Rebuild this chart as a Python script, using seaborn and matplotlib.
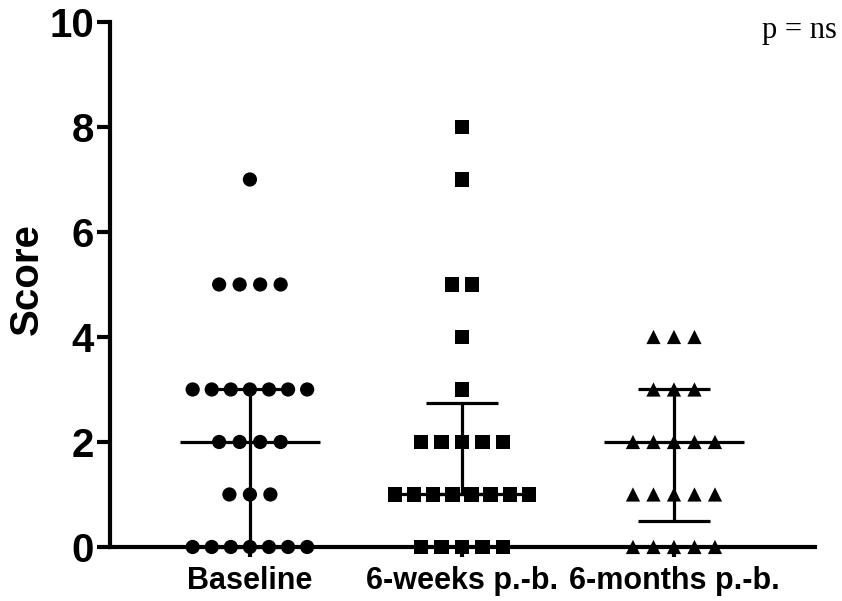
import numpy as np
import pandas as pd
import matplotlib
matplotlib.use("Agg")
import matplotlib.pyplot as plt
import seaborn as sns

# Scores per time point
groups = ["Baseline", "6-weeks p.-b.", "6-months p.-b."]
baseline_scores = [0, 0, 0, 0, 0, 0, 0, 1, 1, 1, 2, 2, 2, 2,
                   3, 3, 3, 3, 3, 3, 3, 5, 5, 5, 5, 7]
weeks6_scores = [0, 0, 0, 0, 0, 1, 1, 1, 1, 1, 1, 1, 1,
                 2, 2, 2, 2, 2, 3, 4, 5, 5, 7, 8]
months6_scores = [0, 0, 0, 0, 0, 1, 1, 1, 1, 1, 2, 2, 2, 2, 2,
                  3, 3, 3, 4, 4, 4]
group_markers = ["o", "s", "^"]
y_ticks = [0, 2, 4, 6, 8, 10]

sns.set_style("ticks")
plt.rcParams["font.family"] = ["Liberation Sans", "DejaVu Sans"]
plt.rcParams.update({"text.color": "black", "axes.labelcolor": "black",
                     "xtick.color": "black", "ytick.color": "black"})

fig = plt.figure(figsize=(8.42, 6.01), dpi=100)
ax = fig.add_axes([0.1306, 0.0899, 0.8373, 0.8735])

# Lay out tied scores side by side, centred on each group position;
# long rows are packed slightly tighter
rows = []
for gi, (name, vals) in enumerate(zip(groups, [baseline_scores, weeks6_scores, months6_scores])):
    vals = np.asarray(vals)
    for v in np.unique(vals):
        n = int((vals == v).sum())
        step = 0.0967 if n <= 6 else 0.0900
        for k in range(n):
            rows.append({"group": name, "score": v,
                         "xpos": gi + (k - (n - 1) / 2) * step})
df = pd.DataFrame(rows)

sns.scatterplot(data=df, x="xpos", y="score", style="group",
                markers=dict(zip(groups, group_markers)), color="black",
                s=105, linewidth=0, legend=False, clip_on=False, zorder=3, ax=ax)

# Median with interquartile range
for gi, vals in enumerate([baseline_scores, weeks6_scores, months6_scores]):
    q1, med, q3 = np.percentile(vals, [25, 50, 75], method="weibull")
    ax.hlines(med, gi - 0.33, gi + 0.33, color="black", lw=2.3, clip_on=False, zorder=2)
    ax.vlines(gi, q1, q3, color="black", lw=2.3, clip_on=False, zorder=2)
    ax.hlines([q1, q3], gi - 0.17, gi + 0.17, color="black", lw=2.3, clip_on=False, zorder=2)

ax.set_xlim(-0.66, 2.665)
ax.set_ylim(0, 10)
ax.set_yticks(y_ticks)
ax.set_yticklabels([str(t) for t in y_ticks], fontsize=29, fontweight="bold")
ax.set_xticks(range(len(groups)))
ax.set_xticklabels(groups, fontsize=22, fontweight="bold")
ax.tick_params(axis="y", length=9.5, width=3, pad=2, direction="out", color="black")
ax.tick_params(axis="x", length=7, width=3, pad=7, direction="out", color="black")
ax.set_xlabel("")
ax.set_ylabel("Score", fontsize=29, fontweight="bold")
ax.yaxis.set_label_coords(-0.1177, 0.511)
ax.yaxis.label.set_va("center")

sns.despine(ax=ax)
for side in ["left", "bottom"]:
    ax.spines[side].set_linewidth(3)
    ax.spines[side].set_color("black")
    ax.spines[side].set_zorder(1)

fig.text(837 / 842, 1 - 38 / 601, "p = ns", ha="right", va="baseline",
         fontsize=22, family=["Liberation Serif", "DejaVu Serif"])

fig.savefig("out.png", dpi=100)
